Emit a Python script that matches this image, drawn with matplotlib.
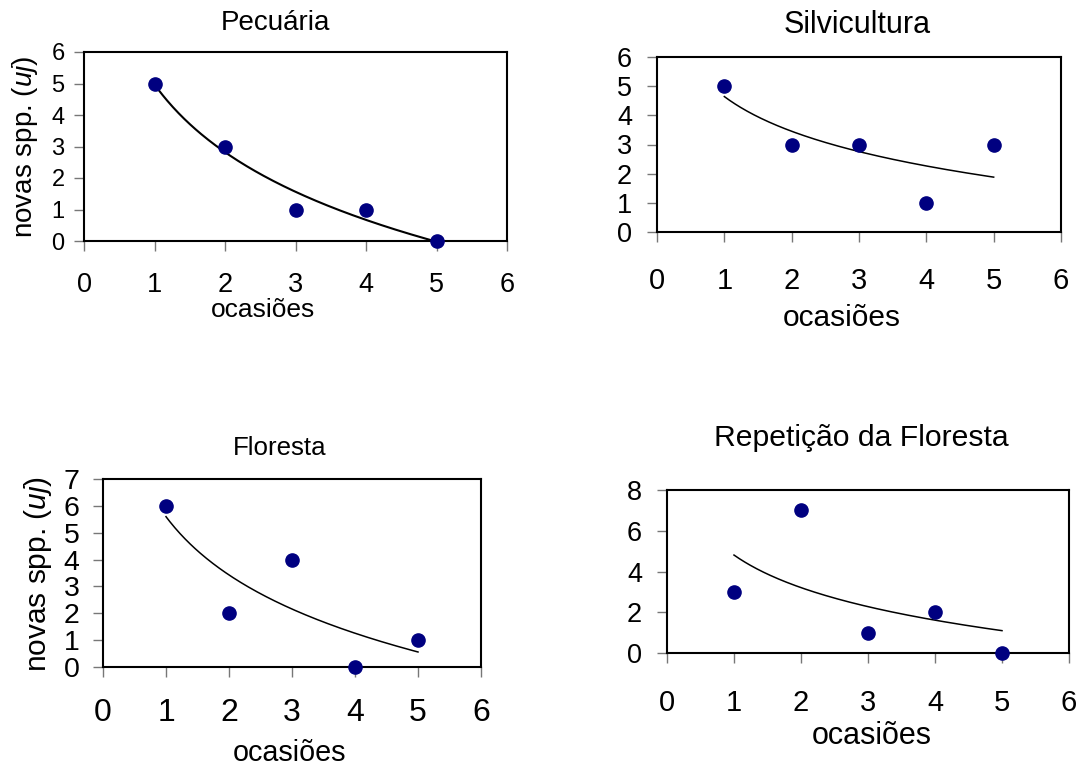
import numpy as np
import matplotlib
matplotlib.use("Agg")
import matplotlib.pyplot as plt

plt.rcParams['font.family'] = 'Liberation Sans'
plt.rcParams['mathtext.fontset'] = 'custom'
plt.rcParams['mathtext.it'] = 'Liberation Sans:italic'
plt.rcParams['mathtext.rm'] = 'Liberation Sans'

# Dados
ocasioes = [1, 2, 3, 4, 5]
pecuaria = [5, 3, 1, 1, 0]
silvicultura = [5, 3, 3, 1, 3]
floresta = [6, 2, 4, 0, 1]
repeticao = [3, 7, 1, 2, 0]

titulos = ["Pecuária", "Silvicultura", "Floresta", "Repetição da Floresta"]
series = [pecuaria, silvicultura, floresta, repeticao]
y_max = [6, 6, 7, 8]
y_passo = [1, 1, 1, 2]

W, H = 1084, 769
fig = plt.figure(figsize=(W / 100, H / 100), dpi=100)

# caixas dos eixos em pixels: esquerda, direita, topo, base
caixas = [(84, 507, 52, 241), (657, 1061, 57, 232),
          (103, 481, 479, 667), (667, 1069, 490, 653)]
# título: x, y, tamanho
pos_titulo = [(275, 23, 20), (857, 25, 22), (280, 448, 18.6), (861, 438, 21.7)]
# rótulo x: x, y, tamanho
pos_xlabel = [(263, 310, 19), (842, 318, 21.5), (290, 753, 20.7), (872, 736, 22)]
# rótulo y (só à esquerda)
pos_ylabel = [(25, 147, 20), None, (38, 574, 21.5), None]
# tamanhos e afastamentos dos números dos eixos
tam_xtick = [19.5, 21, 23, 21]
pad_xtick = [15, 18, 15, 19]
tam_ytick = [17, 19.5, 20.5, 19.5]
pad_ytick = [7, 11, 10, 11]
lw_curva = [1.5, 1.1, 1.1, 1.1]


def fx(px):
    return px / W


def fy(py):
    return 1 - py / H


for i in range(4):
    l, r, t, b = caixas[i]
    ax = fig.add_axes([fx(l), fy(b), (r - l) / W, (b - t) / H])
    y = np.array(series[i], dtype=float)
    x = np.array(ocasioes, dtype=float)

    # linha de tendência logarítmica (como no Excel)
    coef = np.polyfit(np.log(x), y, 1)
    xs = np.linspace(1, 5, 200)
    ax.plot(xs, coef[0] * np.log(xs) + coef[1], color='black', lw=lw_curva[i], zorder=3)

    ax.plot(x, y, 'o', color='#000080', ms=9.5, clip_on=False, zorder=5)

    ax.set_xlim(0, 6)
    ax.set_ylim(0, y_max[i])
    ax.set_xticks(range(0, 7))
    ax.set_yticks(range(0, y_max[i] + 1, y_passo[i]))
    for s in ax.spines.values():
        s.set_linewidth(1.5)
        s.set_color('black')
    ax.tick_params(axis='both', direction='out', length=7, width=1, color='#777777')
    ax.tick_params(axis='x', labelsize=tam_xtick[i], pad=pad_xtick[i])
    ax.tick_params(axis='y', labelsize=tam_ytick[i], pad=pad_ytick[i])

    tx, ty, ts = pos_titulo[i]
    fig.text(fx(tx), fy(ty), titulos[i], fontsize=ts, ha='center', va='center')

    lx, ly, ls = pos_xlabel[i]
    ax.set_xlabel("ocasiões", fontsize=ls, va='center', ha='center')
    ax.xaxis.set_label_coords(fx(lx), fy(ly), transform=fig.transFigure)

    if pos_ylabel[i] is not None:
        yx, yy, ys = pos_ylabel[i]
        ax.set_ylabel("novas spp. ($\\mathit{uj}$)", fontsize=ys, va='center', ha='center')
        ax.yaxis.set_label_coords(fx(yx), fy(yy), transform=fig.transFigure)

fig.savefig("out.png", dpi=100)
